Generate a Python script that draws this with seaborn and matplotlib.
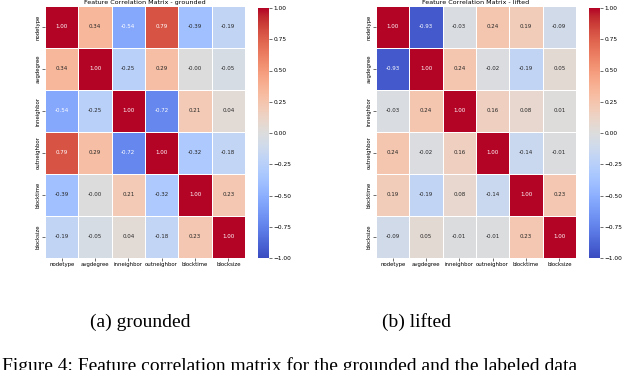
import numpy as np
import pandas as pd
import matplotlib
matplotlib.use("Agg")
import matplotlib.pyplot as plt
import seaborn as sns

features = ["nodetype", "avgdegree", "inneighbor", "outneighbor", "blocktime", "blocksize"]

grounded = [
    [1.00, 0.34, -0.54, 0.79, -0.39, -0.19],
    [0.34, 1.00, -0.25, 0.29, -0.00, -0.05],
    [-0.54, -0.25, 1.00, -0.72, 0.21, 0.04],
    [0.79, 0.29, -0.72, 1.00, -0.32, -0.18],
    [-0.39, -0.00, 0.21, -0.32, 1.00, 0.23],
    [-0.19, -0.05, 0.04, -0.18, 0.23, 1.00],
]

lifted = [
    [1.00, -0.93, -0.03, 0.24, 0.19, -0.09],
    [-0.93, 1.00, 0.24, -0.02, -0.19, 0.05],
    [-0.03, 0.24, 1.00, 0.16, 0.08, 0.01],
    [0.24, -0.02, 0.16, 1.00, -0.14, -0.01],
    [0.19, -0.19, 0.08, -0.14, 1.00, 0.23],
    [-0.09, 0.05, -0.01, -0.01, 0.23, 1.00],
]

cbar_ticks = [-1, -0.75, -0.5, -0.25, 0, 0.25, 0.5, 0.75, 1]

panels = [("grounded", grounded, "(a) grounded"), ("lifted", lifted, "(b) lifted")]

W, H = 622, 370
fig = plt.figure(figsize=(W / 100, H / 100), dpi=100)


def box(x0, y0, x1, y1):
    # pixel box (top-left origin) -> figure fraction
    return [x0 / W, 1 - y1 / H, (x1 - x0) / W, (y1 - y0) / H]


layout = [
    ((45, 6, 245, 258), (258, 8, 269, 258), 140),
    ((376, 6, 576, 258), (589, 8, 600, 258), 417),
]

for (name, mat, cap), (hbox, cbox, capx) in zip(panels, layout):
    ax = fig.add_axes(box(*hbox))
    cax = fig.add_axes(box(*cbox))
    df = pd.DataFrame(mat, index=features, columns=features)
    sns.heatmap(df, ax=ax, cbar_ax=cax, cmap="coolwarm", vmin=-1, vmax=1,
                annot=True, fmt=".2f", annot_kws={"size": 4},
                linewidths=0.6, linecolor="white")
    ax.set_title(f"Feature Correlation Matrix - {name}", fontsize=4.6, pad=1.5)
    ax.tick_params(axis="both", labelsize=3.9, length=2, width=0.4, pad=1)
    ax.set_xticklabels(features, rotation=0)
    ax.set_yticklabels(features, rotation=90, va="center")
    cax.tick_params(labelsize=4.2, length=2, width=0.4, pad=1)
    cax.set_yticks(cbar_ticks)
    cax.set_yticklabels([f"{v:.2f}".replace("-", "\u2212") for v in cbar_ticks])
    fig.text(capx / W, 1 - 322 / H, cap, ha="center", va="center",
             family="Liberation Serif", fontsize=14)

# figure caption, cut by the bottom edge as in the source
fig.text(2 / W, 1 - 357 / H,
         "Figure 4: Feature correlation matrix for the grounded and the labeled data",
         ha="left", va="top", family="Liberation Serif", fontsize=14)

fig.savefig("out.png", dpi=100)
